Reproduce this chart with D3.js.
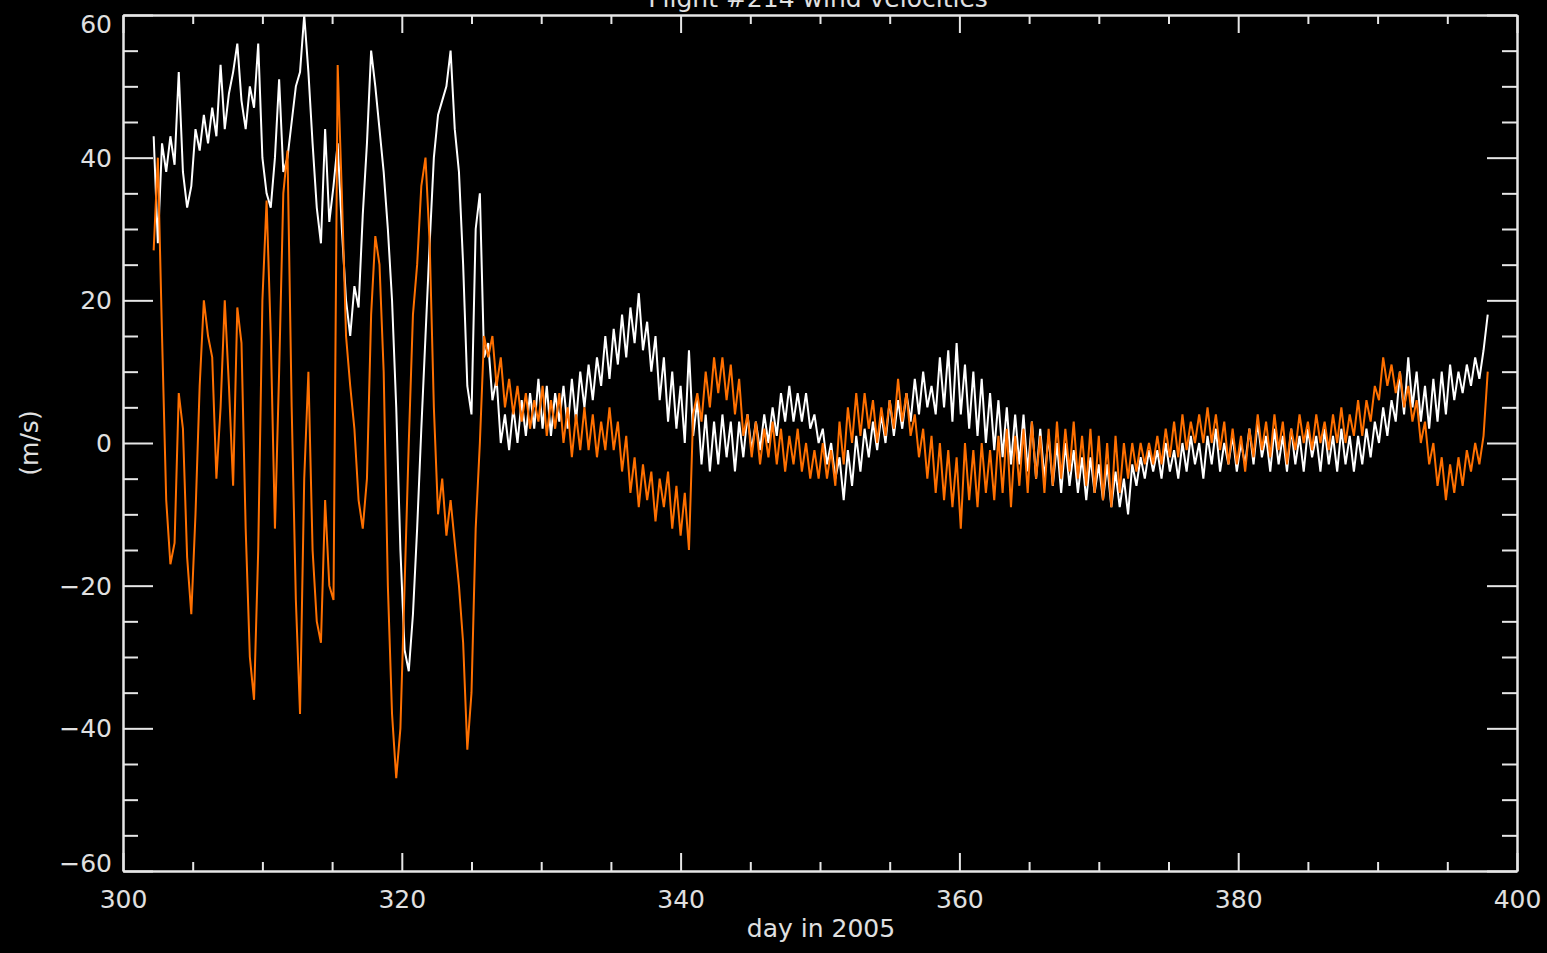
<!DOCTYPE html>
<html>
<head>
<meta charset="utf-8">
<script src="https://cdn.jsdelivr.net/npm/d3@7"></script>
<style>
  html, body { margin: 0; padding: 0; background: #000; }
  svg { display: block; }
</style>
</head>
<body>
<svg id="chart" width="1547" height="953"></svg>
<script>
// ---------------- data ----------------
const titleText = "Flight #214 wind velocities";
const xLabel = "day in 2005";
const yLabel = "(m/s)";
const xDomain = [300, 400];
const yDomain = [-60, 60];
const xMajorTicks = [300, 320, 340, 360, 380, 400];
const yMajorTicks = [-60, -40, -20, 0, 20, 40, 60];
const xMinorStep = 5;
const yMinorStep = 5;

// regular time sampling of the series (day of 2005)
const dayStart = 302.2;
const dayStep = 0.3;

// white series (m/s)
const whiteSeries = [
  43, 28, 42, 38, 43, 39, 52, 38, 33, 36,
  44, 41, 46, 42, 47, 43, 53, 44, 49, 52,
  56, 48, 44, 50, 47, 56, 40, 35, 33, 40,
  51, 38, 40, 45, 50, 52, 60, 52, 42, 33,
  28, 44, 31, 36, 42, 30, 20, 15, 22, 19,
  32, 42, 55, 50, 44, 38, 30, 20, 5, -15,
  -29, -32, -24, -12, 2, 15, 28, 40, 46, 48,
  50, 55, 44, 38, 25, 8, 4, 30, 35, 12,
  14, 6, 9, 0, 4, -1, 5, 0, 6, 1,
  7, 2, 9, 2, 8, 1, 7, 3, 8, 2,
  9, 3, 10, 5, 11, 6, 12, 8, 15, 9,
  16, 11, 18, 12, 19, 14, 21, 13, 17, 10,
  15, 6, 12, 3, 10, 2, 8, 0, 13, 1,
  6, -3, 4, -4, 3, -3, 4, -2, 3, -4,
  3, -2, 4, -1, 3, -1, 4, 0, 5, 1,
  7, 3, 8, 3, 7, 3, 7, 2, 4, 0,
  2, -3, 0, -5, -2, -8, -1, -6, 1, -4,
  2, -2, 3, -1, 4, 0, 6, 1, 6, 2,
  7, 3, 9, 4, 10, 5, 8, 4, 12, 5,
  13, 3, 14, 4, 11, 2, 10, 1, 9, 0,
  7, -1, 6, -2, 5, -3, 4, -3, 4, -4,
  3, -5, 2, -5, 1, -6, 0, -7, 0, -6,
  -1, -7, -2, -8, -2, -7, -3, -8, -3, -9,
  -4, -9, -5, -10, -3, -6, -2, -5, -1, -4,
  -1, -5, 0, -4, -1, -5, 0, -4, 1, -3,
  0, -5, 1, -3, 2, -4, 0, -3, 1, -4,
  0, -3, 2, -3, 3, -2, 1, -4, 2, -3,
  1, -4, 2, -3, 1, -4, 2, -2, 1, -4,
  2, -3, 1, -4, 2, -3, 1, -4, 1, -3,
  2, -2, 3, 0, 5, 1, 6, 3, 10, 4,
  12, 5, 10, 3, 8, 2, 9, 3, 10, 4,
  11, 6, 10, 7, 11, 8, 12, 9, 13, 18
];

// orange series (m/s)
const orangeSeries = [
  27, 40, 15, -8, -17, -14, 7, 2, -16, -24,
  -10, 8, 20, 15, 12, -5, 5, 20, 8, -6,
  19, 14, -12, -30, -36, -15, 20, 34, 15, -12,
  10, 35, 41, 5, -22, -38, -5, 10, -15, -25,
  -28, -8, -20, -22, 53, 35, 15, 8, 2, -8,
  -12, -5, 18, 29, 25, 10, -20, -38, -47, -40,
  -20, 0, 18, 25, 36, 40, 28, 5, -10, -5,
  -13, -8, -14, -20, -28, -43, -35, -12, 0, 15,
  12, 15, 8, 12, 5, 9, 4, 8, 3, 7,
  2, 6, 3, 8, 1, 6, 2, 7, 0, 5,
  -2, 4, -1, 5, -1, 4, -2, 3, -1, 5,
  -1, 3, -4, 1, -7, -2, -9, -3, -8, -4,
  -11, -5, -9, -4, -12, -6, -13, -7, -15, 4,
  7, 3, 10, 5, 12, 7, 12, 6, 11, 4,
  9, 1, 4, -2, 3, -3, 2, -2, 3, -3,
  2, -4, 1, -3, 2, -4, 0, -5, -1, -5,
  0, -5, -1, -6, 3, -3, 5, 0, 7, 1,
  7, 2, 6, 0, 5, 1, 6, 2, 9, 3,
  7, 1, 4, -2, 2, -5, 1, -7, 0, -8,
  -1, -9, -2, -12, 0, -8, -1, -9, 0, -7,
  -1, -8, 1, -7, 2, -9, 1, -6, 2, -7,
  3, -5, 1, -7, 2, -6, 3, -5, 2, -4,
  3, -5, 1, -6, 2, -7, 1, -8, 0, -9,
  1, -7, 0, -5, 0, -4, 0, -3, 0, -3,
  1, -3, 2, -2, 3, -2, 4, -1, 3, 0,
  4, 0, 5, 0, 4, -1, 3, -3, 2, -3,
  1, -4, 2, -2, 4, -1, 3, -2, 4, -1,
  3, -3, 2, -1, 4, 0, 3, -1, 4, 0,
  3, -1, 4, 0, 5, 0, 4, 1, 6, 1,
  6, 3, 8, 6, 12, 8, 11, 7, 10, 5,
  8, 3, 6, 0, 3, -3, 0, -6, -2, -8,
  -3, -7, -2, -6, -1, -4, 0, -3, 1, 10
];

// ---------------- layout ----------------
const W = 1547, H = 953;
const plot = { left: 123, right: 1517, top: 15, bottom: 871 };
const axisColor = "#e6e6e6";
const textColor = "#e0e0e0";
const fontFamily = "'DejaVu Sans', sans-serif";
const fontSize = 25;

const svg = d3.select("#chart");
svg.append("rect").attr("width", W).attr("height", H).attr("fill", "#000");

const x = d3.scaleLinear().domain(xDomain).range([plot.left, plot.right]);
const y = d3.scaleLinear().domain(yDomain).range([plot.bottom, plot.top]);

const days = whiteSeries.map((_, i) => dayStart + dayStep * i);

// clip
svg.append("clipPath").attr("id", "clip")
  .append("rect")
  .attr("x", plot.left).attr("y", plot.top)
  .attr("width", plot.right - plot.left).attr("height", plot.bottom - plot.top);

const line = d3.line()
  .x((d, i) => x(days[i]))
  .y(d => y(d))
  .curve(d3.curveLinear);

const lines = svg.append("g").attr("clip-path", "url(#clip)");
lines.append("path").datum(whiteSeries)
  .attr("d", line).attr("fill", "none")
  .attr("stroke", "#ffffff").attr("stroke-width", 2)
  .attr("stroke-linejoin", "miter").attr("stroke-miterlimit", 2);
lines.append("path").datum(orangeSeries)
  .attr("d", line).attr("fill", "none")
  .attr("stroke", "#ff7000").attr("stroke-width", 2)
  .attr("stroke-linejoin", "miter").attr("stroke-miterlimit", 2);

// ---------------- axes ----------------
const xMinor = d3.range(xDomain[0], xDomain[1] + 0.001, xMinorStep).filter(v => !xMajorTicks.includes(v));
const yMinor = d3.range(yDomain[0], yDomain[1] + 0.001, yMinorStep).filter(v => !yMajorTicks.includes(v));

function styleAxis(g) {
  g.select(".domain").attr("stroke", axisColor).attr("stroke-width", 2);
  g.selectAll(".tick line").attr("stroke", axisColor).attr("stroke-width", 2);
  g.selectAll("text").attr("fill", textColor)
    .attr("font-family", fontFamily).attr("font-size", fontSize);
}

// bottom
const gB = svg.append("g").attr("transform", `translate(0,${plot.bottom})`)
  .call(d3.axisBottom(x).tickValues(xMajorTicks).tickSize(-18).tickPadding(19).tickSizeOuter(0).tickFormat(d3.format("d")));
styleAxis(gB);
svg.append("g").attr("transform", `translate(0,${plot.bottom})`)
  .call(d3.axisBottom(x).tickValues(xMinor).tickSize(-9).tickSizeOuter(0).tickFormat(""))
  .call(styleAxis);
// top
svg.append("g").attr("transform", `translate(0,${plot.top})`)
  .call(d3.axisTop(x).tickValues(xMajorTicks).tickSize(-18).tickSizeOuter(0).tickFormat(""))
  .call(styleAxis);
svg.append("g").attr("transform", `translate(0,${plot.top})`)
  .call(d3.axisTop(x).tickValues(xMinor).tickSize(-9).tickSizeOuter(0).tickFormat(""))
  .call(styleAxis);
// left
const gL = svg.append("g").attr("transform", `translate(${plot.left},0)`)
  .call(d3.axisLeft(y).tickValues(yMajorTicks).tickSize(-30).tickPadding(11).tickSizeOuter(0)
    .tickFormat(d => d < 0 ? "\u2212" + Math.abs(d) : String(d)));
styleAxis(gL);
gL.selectAll(".tick text").attr("dy", d => d === yDomain[1] ? "0.7em" : (d === yDomain[0] ? "0.02em" : "0.34em"));
svg.append("g").attr("transform", `translate(${plot.left},0)`)
  .call(d3.axisLeft(y).tickValues(yMinor).tickSize(-15).tickSizeOuter(0).tickFormat(""))
  .call(styleAxis);
// right
svg.append("g").attr("transform", `translate(${plot.right},0)`)
  .call(d3.axisRight(y).tickValues(yMajorTicks).tickSize(-30).tickSizeOuter(0).tickFormat(""))
  .call(styleAxis);
svg.append("g").attr("transform", `translate(${plot.right},0)`)
  .call(d3.axisRight(y).tickValues(yMinor).tickSize(-15).tickSizeOuter(0).tickFormat(""))
  .call(styleAxis);

// ---------------- texts ----------------
svg.append("text")
  .attr("x", (plot.left + plot.right) / 2 + 1).attr("y", 937)
  .attr("text-anchor", "middle")
  .attr("fill", textColor).attr("font-family", fontFamily).attr("font-size", fontSize)
  .text(xLabel);

svg.append("text")
  .attr("transform", `translate(38,${y(0)}) rotate(-90)`)
  .attr("text-anchor", "middle")
  .attr("fill", textColor).attr("font-family", fontFamily).attr("font-size", fontSize)
  .text(yLabel);

svg.append("text")
  .attr("x", 818).attr("y", 7)
  .attr("text-anchor", "middle")
  .attr("fill", textColor).attr("font-family", fontFamily).attr("font-size", fontSize)
  .text(titleText);
</script>
</body>
</html>
